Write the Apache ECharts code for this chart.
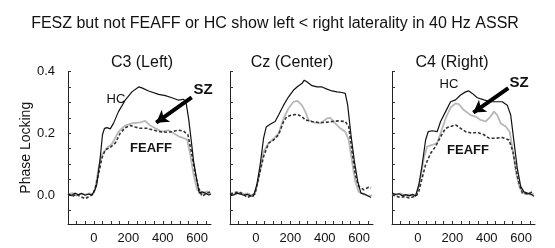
<!DOCTYPE html>
<html>
<head>
<meta charset="utf-8">
<script src="https://cdn.jsdelivr.net/npm/echarts@6/dist/echarts.min.js"></script>
<style>
  html, body { margin: 0; padding: 0; background: #fff; }
  #chart { width: 555px; height: 248px; }
</style>
</head>
<body>
<div id="chart"></div>
<script>
// tick / label positions
var xTicks = [-150, -100, -50, 0, 50, 100, 150, 200, 250, 300, 350, 400, 450, 500, 550, 600, 650]
var xLabels = [0, 200, 400, 600]
var yTicks = [-0.05, 0, 0.05, 0.1, 0.15, 0.2, 0.25, 0.3, 0.35, 0.4]
var yLabels = [0, 0.2, 0.4]
var panelTitles = ['C3 (Left)', 'Cz (Center)', 'C4 (Right)']

// C3 (Left)
var c3HC = [[-150,0.004],[-130,-0.002],[-110,0.006],[-90,0.001],[-70,0.005],[-50,-0.001],[-30,0.003],[-12,0],[5,0.015],[17,0.033],[37,0.12],[50,0.195],[62,0.216],[76,0.218],[95,0.214],[114,0.232],[143,0.27],[182,0.307],[221,0.334],[260,0.35],[279,0.347],[318,0.337],[376,0.326],[415,0.322],[453,0.315],[492,0.307],[521,0.31],[535,0.30],[550,0.248],[566,0.173],[579,0.109],[599,0.044],[612,0.006],[628,0.01],[647,0.006],[667,0.0],[680,0.003]]
var c3SZ = [[-150,0.002],[-125,0.006],[-100,-0.002],[-75,0.004],[-50,0.001],[-25,0.005],[-5,0.002],[8,0.02],[27,0.087],[47,0.13],[76,0.152],[105,0.165],[143,0.205],[182,0.225],[221,0.232],[269,0.235],[298,0.24],[327,0.225],[357,0.216],[395,0.205],[434,0.21],[463,0.2],[492,0.19],[521,0.184],[541,0.18],[560,0.13],[579,0.066],[599,0.017],[628,0.006],[657,0.012],[676,0.003]]
var c3FEAFF = [[-150,0.003],[-125,-0.004],[-100,0.002],[-75,-0.006],[-50,-0.012],[-25,-0.004],[-5,0.002],[8,0.023],[27,0.066],[47,0.12],[66,0.146],[95,0.154],[124,0.168],[153,0.2],[182,0.218],[211,0.225],[240,0.22],[269,0.216],[308,0.216],[347,0.21],[386,0.205],[424,0.203],[453,0.205],[492,0.21],[521,0.207],[546,0.195],[566,0.14],[589,0.066],[608,0.023],[628,-0.004],[657,0.006],[676,0.01]]

// Cz (Center)
var czHC = [[-150,0.002],[-130,0.0],[-110,0.006],[-90,0.003],[-70,-0.001],[-50,0.002],[-30,-0.003],[-14,-0.004],[6,0.033],[25,0.098],[45,0.184],[60,0.22],[83,0.229],[112,0.238],[132,0.259],[161,0.291],[190,0.318],[219,0.34],[248,0.354],[267,0.361],[281,0.372],[296,0.367],[326,0.354],[355,0.35],[384,0.35],[413,0.343],[442,0.337],[471,0.334],[500,0.332],[519,0.329],[533,0.291],[552,0.195],[572,0.109],[591,0.044],[610,0.006],[630,0.003],[655,-0.004],[669,-0.008]]
var czSZ = [[-150,0.004],[-125,0.001],[-100,0.007],[-75,0.002],[-50,0.005],[-25,0.0],[-5,0.004],[16,0.055],[45,0.141],[74,0.168],[103,0.182],[132,0.2],[161,0.248],[190,0.281],[219,0.302],[242,0.305],[267,0.291],[287,0.27],[306,0.243],[335,0.235],[374,0.232],[413,0.248],[432,0.25],[461,0.232],[490,0.216],[519,0.205],[539,0.178],[558,0.109],[577,0.044],[597,0.01],[626,0.003],[655,-0.004],[675,0.0]]
var czFEAFF = [[-150,0.003],[-125,0.008],[-100,0.01],[-75,0.004],[-50,-0.008],[-25,-0.002],[-5,0.004],[16,0.055],[45,0.125],[74,0.168],[103,0.178],[132,0.195],[161,0.238],[180,0.254],[209,0.259],[238,0.261],[267,0.254],[287,0.243],[326,0.238],[364,0.235],[403,0.235],[442,0.238],[481,0.24],[519,0.238],[539,0.222],[558,0.141],[577,0.066],[597,0.028],[626,0.017],[655,0.025],[669,0.023]]

// C4 (Right)
var c4HC = [[-150,0.006],[-130,0.002],[-110,0.004],[-90,-0.002],[-70,0.001],[-50,-0.003],[-30,0.002],[-14,-0.004],[6,0.033],[25,0.098],[45,0.178],[60,0.205],[83,0.208],[112,0.205],[132,0.238],[161,0.27],[190,0.302],[219,0.308],[248,0.324],[277,0.334],[296,0.337],[316,0.329],[345,0.315],[384,0.308],[422,0.302],[452,0.302],[490,0.302],[519,0.291],[539,0.259],[558,0.173],[577,0.087],[597,0.028],[616,0.01],[636,0.006],[655,0.003],[674,-0.004]]
var c4SZ = [[-150,0.003],[-125,0.0],[-100,0.005],[-75,-0.002],[-50,0.002],[-25,-0.001],[-5,0.003],[16,0.055],[35,0.12],[54,0.157],[83,0.162],[112,0.168],[132,0.2],[161,0.248],[190,0.283],[219,0.297],[238,0.294],[267,0.275],[306,0.259],[335,0.254],[364,0.243],[393,0.238],[422,0.254],[442,0.27],[461,0.259],[481,0.232],[510,0.222],[533,0.205],[552,0.141],[572,0.066],[591,0.023],[616,0.006],[655,0.001],[675,0.004]]
var c4FEAFF = [[-150,0.0],[-125,-0.004],[-100,-0.008],[-75,-0.005],[-50,-0.01],[-25,-0.006],[-5,0.0],[6,0.012],[25,0.055],[45,0.098],[74,0.135],[103,0.157],[132,0.189],[161,0.216],[190,0.222],[219,0.227],[248,0.216],[277,0.205],[316,0.2],[345,0.203],[384,0.195],[413,0.184],[452,0.184],[490,0.186],[529,0.178],[552,0.141],[568,0.087],[587,0.039],[606,0.006],[636,0.003],[664,0.01]]

// arrows pointing at the SZ trace (from, to)
var c3Arrow = [[568, 0.316], [362, 0.234]]
var c4Arrow = [[525, 0.346], [322, 0.267]]

var font = 'Liberation Sans, Arial, sans-serif'
var panelLeft = [68, 230, 392]
var panelCenter = [137, 287, 447]

var chart = echarts.init(document.getElementById('chart'))

var grids = [], xAxes = [], yAxes = [], series = []
panelLeft.forEach(function (left, i) {
  grids.push({ left: left, top: 71.5, width: 143, height: 152.5 })
  xAxes.push({
    type: 'value', gridIndex: i, min: -150, max: 680,
    axisLine: { onZero: false, lineStyle: { color: '#222', width: 1 } },
    axisTick: { inside: true, length: 3, customValues: xTicks, lineStyle: { color: '#333' } },
    axisLabel: { customValues: xLabels, color: '#111', fontSize: 13, fontFamily: font, margin: 8 },
    splitLine: { show: false }
  })
  yAxes.push({
    type: 'value', gridIndex: i, min: -0.094, max: 0.4,
    name: i === 0 ? 'Phase Locking' : '',
    nameLocation: 'middle', nameGap: 35,
    nameTextStyle: { color: '#111', fontSize: 14, fontFamily: font },
    axisLine: { show: true, onZero: false, lineStyle: { color: '#222', width: 1 } },
    axisTick: { show: true, inside: true, length: 3, customValues: yTicks, lineStyle: { color: '#333' } },
    axisLabel: {
      show: i === 0, customValues: yLabels, color: '#111', fontSize: 13, fontFamily: font, margin: 13,
      formatter: function (v) { return v.toFixed(1) }
    },
    splitLine: { show: false }
  })
})

function line(data, idx, color, width, type, z) {
  return {
    type: 'line', xAxisIndex: idx, yAxisIndex: idx, data: data,
    showSymbol: false, symbol: 'none', z: z,
    lineStyle: { color: color, width: width, type: type }
  }
}
function arrow(seg) {
  return {
    silent: true, symbol: ['none', 'arrow'], symbolSize: [11, 12],
    label: { show: false },
    lineStyle: { color: '#000', width: 4, type: 'solid' },
    data: [[{ coord: seg[0] }, { coord: seg[1] }]]
  }
}

var sets = [[c3HC, c3SZ, c3FEAFF], [czHC, czSZ, czFEAFF], [c4HC, c4SZ, c4FEAFF]]
sets.forEach(function (s, i) {
  series.push(line(s[1], i, '#b8b8b8', 1.8, 'solid', 2))
  series.push(line(s[2], i, '#333', 1.6, [3, 2], 3))
  var hc = line(s[0], i, '#111', 1.2, 'solid', 4)
  if (i === 0) hc.markLine = arrow(c3Arrow)
  if (i === 2) hc.markLine = arrow(c4Arrow)
  series.push(hc)
})

var titles = [{
  text: 'FESZ but not FEAFF or HC show left < right laterality in 40 Hz ASSR',
  left: 270, top: 11, textAlign: 'center',
  textStyle: { fontSize: 16, fontWeight: 'normal', color: '#111', fontFamily: font }
}]
panelTitles.forEach(function (t, i) {
  titles.push({
    text: t, left: panelCenter[i], top: 50, textAlign: 'center',
    textStyle: { fontSize: 16, fontWeight: 'normal', color: '#111', fontFamily: font }
  })
})

function note(text, x, y, size, weight) {
  return {
    type: 'text', x: x, y: y,
    style: {
      text: text, align: 'center', verticalAlign: 'middle',
      font: weight + ' ' + size + 'px ' + font, fill: '#111'
    },
    z: 10
  }
}

chart.setOption({
  animation: false,
  title: titles,
  grid: grids,
  xAxis: xAxes,
  yAxis: yAxes,
  series: series,
  graphic: [
    note('HC', 116, 99, 13, 'normal'),
    note('FEAFF', 151, 148, 13, 'bold'),
    note('SZ', 203, 90, 15, 'bold'),
    note('HC', 449, 84, 13, 'normal'),
    note('SZ', 519, 83, 15, 'bold'),
    note('FEAFF', 468, 150, 13, 'bold')
  ]
})
</script>
</body>
</html>
